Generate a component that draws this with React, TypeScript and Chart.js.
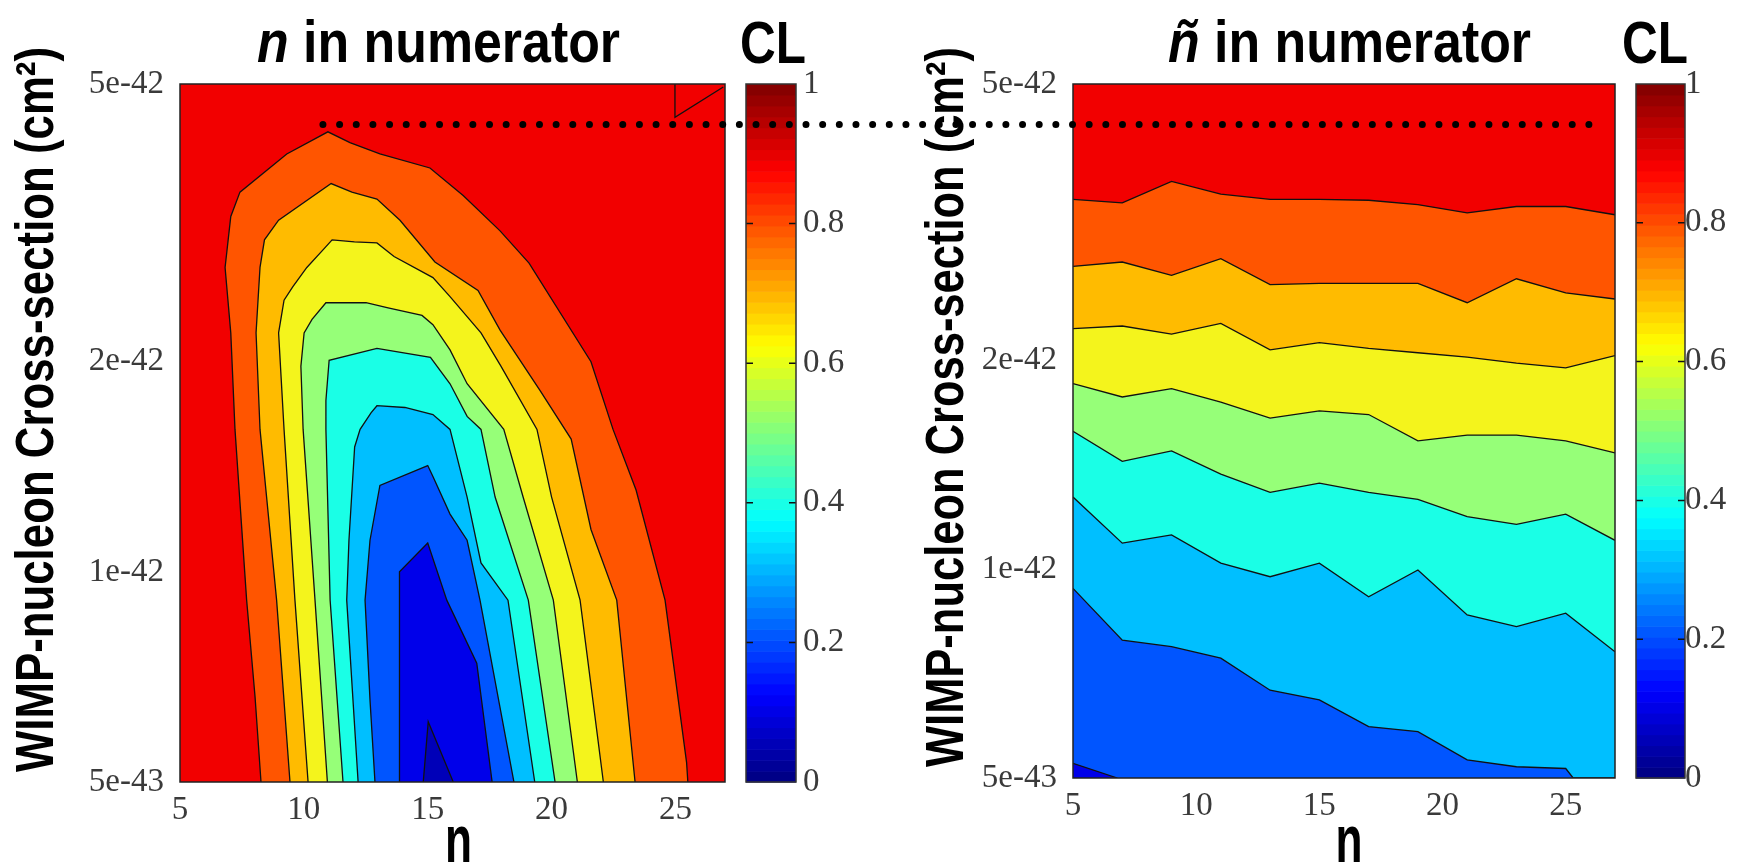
import React, { useEffect, useRef } from 'react';
import { Chart, registerables } from 'chart.js';

Chart.register(...registerables);

const W = 1749;
const H = 863;

type Pt = [number, number];

// ---- axes -------------------------------------------------------------
const N_MIN = 5;
const N_MAX = 27;
const X_TICKS = [5, 10, 15, 20, 25];
// cross-section values are stored in units of 1e-42 cm²
const SIGMA_MIN = 0.5;
const SIGMA_MAX = 5;
const Y_TICKS = [0.5, 1, 2, 5];
const Y_TICK_LABELS = ['5e-43', '1e-42', '2e-42', '5e-42'];
const CL_TICKS = [0, 0.2, 0.4, 0.6, 0.8, 1];
const CL_TICK_LABELS = ['0', '0.2', '0.4', '0.6', '0.8', '1'];

// ---- contour levels and band colours ------------------------------------
const CL_LEVELS = [0.9, 0.8, 0.7, 0.6, 0.5, 0.4, 0.3, 0.2, 0.1];
// colour of the band lying inside / below each level
const BAND_COLORS = ['#ff5500', '#ffbb00', '#f4f41c', '#96ff78', '#1affe6', '#00bfff', '#0055ff', '#0000ea', '#0000b8'];
const OUTER_COLOR = '#f20000';
const LINE_COLOR = '#111111';

// ---- left panel: n in numerator (closed contours, [n, sigma]) -----------
const NUM_CL90: Pt[] = [[8.27, 0.5], [8.03, 0.662], [7.69, 0.911], [7.22, 1.6], [7.05, 2.2], [6.82, 2.73], [7.05, 3.23], [7.42, 3.5], [9.31, 3.97], [10.97, 4.27], [11.86, 4.12], [13.07, 3.97], [15.09, 3.79], [16.43, 3.46], [17.92, 3.08], [19.09, 2.77], [21.59, 2.0], [22.48, 1.6], [23.41, 1.31], [24.58, 0.911], [25.45, 0.533], [25.5, 0.5]];
const NUM_CL80: Pt[] = [[9.44, 0.5], [8.9, 0.911], [8.23, 1.6], [8.07, 2.2], [8.23, 2.73], [8.41, 2.99], [8.98, 3.19], [11.1, 3.6], [11.94, 3.5], [12.95, 3.42], [13.88, 3.19], [15.29, 2.78], [17.03, 2.53], [17.92, 2.22], [19.53, 1.82], [20.79, 1.55], [21.59, 1.15], [22.63, 0.911], [23.37, 0.5]];
const NUM_CL70: Pt[] = [[10.17, 0.5], [9.64, 0.911], [9.2, 1.6], [8.98, 2.2], [9.2, 2.45], [9.55, 2.56], [10.12, 2.73], [10.8, 2.9], [11.14, 2.99], [12.04, 2.97], [12.95, 2.96], [13.64, 2.83], [15.21, 2.64], [15.9, 2.48], [17.15, 2.2], [17.96, 1.97], [19.41, 1.6], [20.0, 1.28], [21.15, 0.911], [22.09, 0.5]];
const NUM_CL60: Pt[] = [[10.95, 0.5], [10.45, 0.911], [9.97, 1.6], [9.88, 1.97], [10.01, 2.2], [10.33, 2.3], [10.89, 2.43], [12.51, 2.43], [13.4, 2.39], [14.77, 2.33], [15.21, 2.26], [15.9, 2.08], [16.59, 1.86], [18.07, 1.6], [18.85, 1.28], [20.07, 0.911], [21.04, 0.5]];
const NUM_CL50: Pt[] = [[11.58, 0.5], [11.06, 0.911], [10.89, 1.6], [10.89, 1.76], [11.02, 2.01], [12.95, 2.09], [15.11, 2.03], [15.9, 1.86], [16.59, 1.67], [17.15, 1.6], [17.72, 1.28], [19.06, 0.911], [20.14, 0.5]];
const NUM_CL40: Pt[] = [[12.19, 0.5], [11.73, 0.911], [11.82, 1.11], [12.05, 1.51], [12.27, 1.6], [12.71, 1.69], [12.95, 1.73], [14.08, 1.72], [15.21, 1.68], [15.9, 1.6], [16.59, 1.28], [17.15, 1.03], [18.24, 0.911], [19.32, 0.5]];
const NUM_CL30: Pt[] = [[12.87, 0.5], [12.67, 0.655], [12.47, 0.911], [12.67, 1.11], [13.07, 1.33], [15.0, 1.42], [15.21, 1.37], [15.9, 1.21], [16.59, 1.11], [17.11, 0.911], [18.48, 0.5]];
const NUM_CL20: Pt[] = [[13.86, 0.5], [13.86, 1.0], [15.0, 1.1], [15.77, 0.911], [16.98, 0.74], [17.6, 0.5]];
const NUM_CL10: Pt[] = [[14.82, 0.5], [15.02, 0.61], [16.03, 0.5]];
const NUM_CORNER: Pt[] = [[24.98, 5.0], [24.98, 4.48], [26.93, 4.95]];

// ---- right panel: ñ in numerator (level curves sampled on the n grid) ---
const N_GRID = [5, 7, 9, 11, 13, 15, 17, 19, 21, 23, 25, 27];
const NT_CL90 = [3.41, 3.37, 3.62, 3.47, 3.41, 3.41, 3.4, 3.35, 3.26, 3.33, 3.33, 3.24];
const NT_CL80 = [2.73, 2.77, 2.65, 2.8, 2.57, 2.58, 2.58, 2.58, 2.42, 2.62, 2.5, 2.45];
const NT_CL70 = [2.22, 2.24, 2.18, 2.26, 2.07, 2.12, 2.08, 2.05, 2.02, 1.98, 1.95, 2.03];
const NT_CL60 = [1.85, 1.77, 1.82, 1.74, 1.65, 1.69, 1.67, 1.53, 1.56, 1.56, 1.53, 1.47];
const NT_CL50 = [1.58, 1.43, 1.48, 1.37, 1.29, 1.33, 1.29, 1.26, 1.19, 1.16, 1.2, 1.1];
const NT_CL40 = [1.27, 1.09, 1.12, 1.02, 0.975, 1.02, 0.912, 0.997, 0.859, 0.826, 0.864, 0.76];
const NT_CL30 = [0.938, 0.79, 0.773, 0.744, 0.669, 0.648, 0.593, 0.583, 0.531, 0.519, 0.516];
const NT_CL30_EXIT: Pt[] = [[25.3, 0.5], [27, 0.5]];
const NT_CL20: Pt[] = [[5, 0.525], [6.8, 0.5]];

// dotted guide at the top of the n-panel contours, carried across both panels
const DOT_SIGMA = 4.37;
const DOT_FROM_N = 10.77;
const DOT_TO_N = 25.94;
const DOT_PITCH = 16.66;

// ---- text -----------------------------------------------------------------
const TITLE_REST = ' in numerator';
const Y_TITLE = 'WIMP-nucleon Cross-section (cm²)';
const X_TITLE = 'n';
const CB_TITLE = 'CL';
const SANS = "'Liberation Sans', Arial, Helvetica, sans-serif";
const SERIF = "'Liberation Serif', 'Times New Roman', 'DejaVu Serif', serif";
const CB_STEPS = 64;

const zipGrid = (vals: number[]): Pt[] => vals.map((v, i) => [N_GRID[i], v] as Pt);

const NUM_CONTOURS: Pt[][] = [NUM_CL90, NUM_CL80, NUM_CL70, NUM_CL60, NUM_CL50, NUM_CL40, NUM_CL30, NUM_CL20, NUM_CL10];
const NT_CONTOURS: Pt[][] = [
  zipGrid(NT_CL90), zipGrid(NT_CL80), zipGrid(NT_CL70), zipGrid(NT_CL60),
  zipGrid(NT_CL50), zipGrid(NT_CL40), [...zipGrid(NT_CL30), ...NT_CL30_EXIT], NT_CL20,
];

function jet(v: number): string {
  const c = (t: number) => Math.round(255 * Math.max(0, Math.min(1, 1.5 - Math.abs(t))));
  return `rgb(${c(4 * v - 3)},${c(4 * v - 2)},${c(4 * v - 1)})`;
}

interface PanelLayout {
  padding: { left: number; right: number; top: number; bottom: number };
  symbol: string;
  titleX: number;
  clX: number;
  yLabelX: number;
  yLabelY: number;
  yLabelLength: number;
  xLabelX: number;
  cbOffset: number;
  cbWidth: number;
  cbLabelPad: number;
}

const LEFT_LAYOUT: PanelLayout = {
  padding: { left: 70, right: 904, top: 84, bottom: 21 },
  symbol: 'n', titleX: 438.5, clX: 773,
  yLabelX: 53, yLabelY: 409.5, yLabelLength: 725,
  xLabelX: 458.5, cbOffset: 21, cbWidth: 50, cbLabelPad: 78,
};
const RIGHT_LAYOUT: PanelLayout = {
  padding: { left: 963, right: 14, top: 84, bottom: 25 },
  symbol: 'ñ', titleX: 1349.5, clX: 1655,
  yLabelX: 963, yLabelY: 407, yLabelLength: 720,
  xLabelX: 1349, cbOffset: 21, cbWidth: 49, cbLabelPad: 70,
};

function drawFitted(ctx: CanvasRenderingContext2D, parts: [string, string][], x: number, y: number, width: number, rotate: boolean) {
  ctx.save();
  let total = 0;
  const widths = parts.map(([t, f]) => { ctx.font = f; const w = ctx.measureText(t).width; total += w; return w; });
  ctx.translate(x, y);
  if (rotate) ctx.rotate(-Math.PI / 2);
  ctx.scale(width / total, 1);
  ctx.fillStyle = '#000';
  ctx.textAlign = 'left';
  ctx.textBaseline = 'alphabetic';
  let cx = -total / 2;
  parts.forEach(([t, f], i) => { ctx.font = f; ctx.fillText(t, cx, 0); cx += widths[i]; });
  ctx.restore();
}

function decorPlugin(layout: PanelLayout, partner: () => Chart | null) {
  return {
    id: 'panelDecor',
    beforeDatasetsDraw(chart: any) {
      const { ctx, chartArea: a } = chart;
      ctx.save();
      ctx.fillStyle = OUTER_COLOR;
      ctx.fillRect(a.left, a.top, a.right - a.left, a.bottom - a.top);
      ctx.restore();
    },
    afterDatasetsDraw(chart: any) {
      const { ctx, chartArea: a } = chart;
      const cb = chart.scales.cb;
      ctx.save();
      const x0 = cb.left + layout.cbOffset;
      const w = layout.cbWidth;
      for (let i = 0; i < CB_STEPS; i++) {
        const yHi = cb.getPixelForValue((i + 1) / CB_STEPS);
        const yLo = cb.getPixelForValue(i / CB_STEPS);
        ctx.fillStyle = jet((i + 0.5) / CB_STEPS);
        ctx.fillRect(x0, yHi, w, yLo - yHi + 0.6);
      }
      ctx.strokeStyle = '#111';
      ctx.lineWidth = 1.5;
      ctx.beginPath();
      CL_TICKS.forEach((v) => {
        if (v <= 0 || v >= 1) return;
        const y = cb.getPixelForValue(v);
        ctx.moveTo(x0, y); ctx.lineTo(x0 + 7, y);
        ctx.moveTo(x0 + w - 7, y); ctx.lineTo(x0 + w, y);
      });
      ctx.stroke();
      ctx.strokeStyle = '#333';
      ctx.strokeRect(x0, cb.top, w, cb.bottom - cb.top);
      ctx.strokeStyle = '#222';
      ctx.strokeRect(a.left, a.top, a.right - a.left, a.bottom - a.top);
      ctx.restore();
    },
    afterDraw(chart: any) {
      const { ctx } = chart;
      drawFitted(ctx, [[layout.symbol, `italic bold 59px ${SANS}`], [TITLE_REST, `bold 59px ${SANS}`]], layout.titleX, 62, 363, false);
      drawFitted(ctx, [[CB_TITLE, `bold 59px ${SANS}`]], layout.clX, 63, 66, false);
      drawFitted(ctx, [[Y_TITLE, `bold 53px ${SANS}`]], layout.yLabelX, layout.yLabelY, layout.yLabelLength, true);
      drawFitted(ctx, [[X_TITLE, `bold 66px ${SANS}`]], layout.xLabelX, 862, 27, false);

      const other = partner();
      if (other) {
        const y = chart.scales.y.getPixelForValue(DOT_SIGMA);
        const xa = (other as any).scales.x.getPixelForValue(DOT_FROM_N);
        const xb = chart.scales.x.getPixelForValue(DOT_TO_N);
        const gaps = Math.max(1, Math.round((xb - xa) / DOT_PITCH));
        ctx.save();
        ctx.strokeStyle = '#000';
        ctx.lineWidth = 7;
        ctx.lineCap = 'round';
        ctx.setLineDash([0, (xb - xa) / gaps]);
        ctx.beginPath();
        ctx.moveTo(xa, y);
        ctx.lineTo(xb + 0.5, y);
        ctx.stroke();
        ctx.restore();
      }
    },
  };
}

// fixed box sizes; label overhang is already covered by the layout padding
const fixBox = (size: number, horizontal: boolean) => (s: any) => {
  if (horizontal) s.height = size; else s.width = size;
  s.paddingTop = 0;
  s.paddingBottom = 0;
  s.paddingLeft = 0;
  s.paddingRight = 0;
};

function buildConfig(layout: PanelLayout, datasets: any[], partner: () => Chart | null): any {
  const tickFont = { family: SERIF, size: 33 };
  const tickColor = '#3a3a3a';
  return {
    type: 'line',
    data: { datasets },
    plugins: [decorPlugin(layout, partner)],
    options: {
      animation: false,
      responsive: false,
      events: [],
      layout: { padding: layout.padding },
      elements: { line: { tension: 0 }, point: { radius: 0 } },
      plugins: { legend: { display: false }, tooltip: { enabled: false } },
      scales: {
        x: {
          type: 'linear', position: 'bottom', min: N_MIN, max: N_MAX,
          grid: { display: false, drawTicks: false }, border: { display: false },
          ticks: { font: tickFont, color: tickColor, padding: 9, autoSkip: false, maxRotation: 0 },
          afterBuildTicks: (s: any) => { s.ticks = X_TICKS.map((v) => ({ value: v })); },
          afterFit: fixBox(60, true),
        },
        y: {
          type: 'logarithmic', position: 'left', min: SIGMA_MIN, max: SIGMA_MAX,
          grid: { display: false, drawTicks: false }, border: { display: false },
          ticks: { font: tickFont, color: tickColor, padding: 16, autoSkip: false, callback: (_v: any, i: number) => Y_TICK_LABELS[i] },
          afterBuildTicks: (s: any) => { s.ticks = Y_TICKS.map((v) => ({ value: v })); },
          afterFit: fixBox(110, false),
        },
        cb: {
          type: 'linear', position: 'right', min: 0, max: 1,
          grid: { display: false, drawTicks: false }, border: { display: false },
          ticks: { font: tickFont, color: tickColor, padding: layout.cbLabelPad, autoSkip: false, callback: (_v: any, i: number) => CL_TICK_LABELS[i] },
          afterBuildTicks: (s: any) => { s.ticks = CL_TICKS.map((v) => ({ value: v })); },
          afterFit: fixBox(120, false),
        },
      },
    },
  };
}

const toXY = (pts: Pt[]) => pts.map(([x, y]) => ({ x, y }));

function numDatasets() {
  const ds: any[] = NUM_CONTOURS.map((pts, k) => ({
    label: `CL ${CL_LEVELS[k]}`,
    data: toXY(pts),
    fill: 'shape',
    backgroundColor: BAND_COLORS[k],
    borderColor: LINE_COLOR,
    borderWidth: 1.3,
    pointRadius: 0,
    order: 20 - k,
  }));
  ds.push({ label: 'CL 0.9 corner', data: toXY(NUM_CORNER), fill: false, borderColor: LINE_COLOR, borderWidth: 1.3, pointRadius: 0, order: 0 });
  return ds;
}

function ntDatasets() {
  return NT_CONTOURS.map((pts, k) => ({
    label: `CL ${CL_LEVELS[k]}`,
    data: toXY(pts),
    fill: 'start',
    backgroundColor: BAND_COLORS[k],
    borderColor: LINE_COLOR,
    borderWidth: 1.3,
    pointRadius: 0,
    order: 20 - k,
  }));
}

export default function App() {
  const leftRef = useRef<HTMLCanvasElement>(null);
  const rightRef = useRef<HTMLCanvasElement>(null);

  useEffect(() => {
    const left = new Chart(leftRef.current as HTMLCanvasElement, buildConfig(LEFT_LAYOUT, numDatasets(), () => null));
    const right = new Chart(rightRef.current as HTMLCanvasElement, buildConfig(RIGHT_LAYOUT, ntDatasets(), () => left));
    return () => {
      right.destroy();
      left.destroy();
    };
  }, []);

  const canvasStyle: React.CSSProperties = { position: 'absolute', left: 0, top: 0, width: W, height: H };
  return (
    <div style={{ position: 'fixed', left: 0, top: 0, width: W, height: H, background: '#fff', overflow: 'hidden' }}>
      <canvas ref={leftRef} width={W} height={H} style={canvasStyle} />
      <canvas ref={rightRef} width={W} height={H} style={canvasStyle} />
    </div>
  );
}
